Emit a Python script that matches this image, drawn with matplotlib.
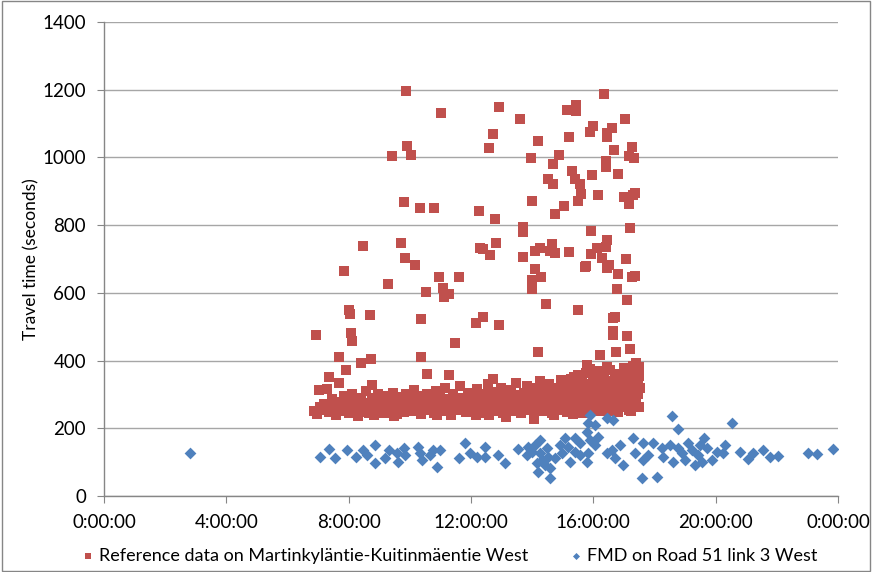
import matplotlib
matplotlib.use("Agg")
import matplotlib.pyplot as plt
from matplotlib.patches import Rectangle

plt.rcParams['font.family'] = ['Lato', 'DejaVu Sans']

# Hours of day for the time axis
tick_hours = [0, 4, 8, 12, 16, 20, 24]
tick_labels = ['0:00:00', '4:00:00', '8:00:00', '12:00:00', '16:00:00', '20:00:00', '0:00:00']
y_ticks = [0, 200, 400, 600, 800, 1000, 1200, 1400]

# Reference data: slow trips (hour of day, seconds)
ref_slow_hours = [
    9.88, 11.02, 9.91, 9.42, 10.04, 9.81, 10.33, 10.79, 12.25, 8.47, 9.71, 9.84, 10.17,
    7.85, 10.95, 11.61, 12.30, 9.29, 10.53, 11.09, 11.12, 11.28, 8.01, 8.04, 8.70, 6.93,
    8.08, 8.11, 10.37, 11.48, 12.16, 7.68, 10.37, 8.73, 8.40, 7.91, 10.56, 7.36, 11.28,
    7.68, 8.76, 7.03, 7.29, 12.72,
    16.35, 12.92, 13.60, 15.14, 15.43, 15.43, 17.04, 12.72, 12.59, 14.19, 15.21, 15.99,
    15.89, 16.61, 16.45, 16.45, 17.27, 17.17, 17.33, 16.68, 13.96, 14.88, 14.68, 16.42,
    16.42, 15.30, 15.40, 15.96, 16.81, 14.52, 14.68, 15.57, 15.60, 15.50, 16.15, 17.00,
    17.36, 17.30, 17.17, 14.00, 15.04, 14.75, 12.79, 13.70, 13.70, 15.93, 17.20, 12.82,
    12.39, 12.62, 13.70, 14.09, 14.26, 14.65, 14.58, 14.75, 15.21, 15.93, 16.12, 16.42,
    16.45, 16.29, 16.51, 16.45, 17.07, 15.73, 14.09, 14.29, 14.00, 14.00, 15.76, 16.81,
    17.36, 17.27, 16.78, 17.10, 14.45, 15.50, 12.39, 12.92, 16.71, 16.64, 16.64, 16.64,
    17.10, 14.19, 17.20, 16.22, 16.74, 15.79,
]
ref_slow_values = [
    1195, 1131, 1034, 1004, 1007, 868, 851, 851, 842, 738, 747, 703, 682,
    665, 647, 647, 732, 626, 602, 614, 588, 597, 549, 537, 535, 475,
    481, 458, 523, 452, 511, 411, 411, 405, 393, 372, 360, 351, 357,
    334, 328, 313, 316, 346,
    1187, 1149, 1113, 1140, 1155, 1137, 1113, 1069, 1028, 1048, 1060, 1093,
    1075, 1087, 1072, 1060, 1031, 1004, 998, 1022, 998, 1007, 981, 989,
    972, 960, 936, 948, 951, 936, 921, 921, 892, 871, 889, 883,
    895, 889, 862, 871, 856, 833, 818, 794, 780, 783, 792, 747,
    729, 712, 706, 724, 732, 744, 724, 718, 721, 715, 732, 735,
    756, 703, 682, 673, 700, 676, 670, 647, 638, 611, 679, 656,
    650, 647, 611, 579, 567, 549, 529, 505, 529, 526, 487, 475,
    473, 425, 434, 416, 425, 387,
]

# Reference data: free-flow band
ref_band_hours = [
    6.85, 6.95, 7.05, 7.15, 7.25, 7.35, 7.45, 7.55, 7.60, 7.70, 7.80, 7.85, 7.95, 8.00,
    8.05, 8.12, 8.20, 8.25, 8.30, 8.38, 8.45, 8.50, 8.55, 8.62, 8.70, 8.75, 8.82, 8.90,
    8.95, 9.02, 9.08, 9.15, 9.20, 9.27, 9.33, 9.40, 9.45, 9.50, 9.57, 9.62, 9.70, 9.75,
    9.82, 9.88, 9.95, 10.00, 10.05, 10.12, 10.18, 10.25, 10.30, 10.37, 10.42, 10.50,
    10.55, 10.60, 10.67, 10.72, 10.80, 10.85, 10.90, 10.97, 11.03, 11.10, 11.15, 11.22,
    11.28, 11.35, 11.40, 11.47, 11.52, 11.60, 11.65, 11.72, 11.78, 11.85, 11.90, 11.97,
    12.02, 12.08, 12.15, 12.20, 12.27, 12.32, 12.38, 12.45, 12.50, 12.55, 12.62, 12.68,
    12.73, 12.80, 12.85, 12.92, 12.97, 13.03, 13.08, 13.15, 13.20, 13.25, 13.32, 13.37,
    13.43, 13.48, 13.55, 13.60, 13.65, 13.72, 13.77, 13.83, 13.88, 13.95, 14.00, 14.05,
    14.10, 14.15, 14.20, 14.25, 14.30, 14.35, 14.40, 14.45, 14.50, 14.55, 14.60, 14.65,
    14.70, 14.75, 14.80, 14.85, 14.90, 14.95, 15.00, 15.03, 15.07, 15.10, 15.14, 15.18,
    15.22, 15.25, 15.29, 15.33, 15.37, 15.40, 15.44, 15.48, 15.52, 15.55, 15.59, 15.63,
    15.66, 15.70, 15.74, 15.77, 15.81, 15.85, 15.88, 15.92, 15.95, 15.99, 16.02, 16.06,
    16.09, 16.13, 16.16, 16.20, 16.23, 16.27, 16.30, 16.33, 16.37, 16.40, 16.43, 16.47,
    16.50, 16.53, 16.57, 16.60, 16.63, 16.67, 16.70, 16.73, 16.77, 16.80, 16.83, 16.87,
    16.90, 16.93, 16.97, 17.00, 17.03, 17.07, 17.10, 17.13, 17.17, 17.20, 17.23, 17.27,
    17.30, 17.33, 17.37, 17.40, 17.43, 17.47, 17.50, 17.45, 17.35, 16.45, 15.90, 15.50,
    16.00, 16.30, 17.15, 15.35, 14.72, 13.05, 11.88, 10.90, 9.48, 8.65, 12.60, 14.10,
    15.70, 16.60, 17.25, 17.45, 17.50, 17.52, 17.40, 17.28, 17.05, 16.85, 16.55, 16.25,
    15.97, 15.62, 15.28, 14.92, 14.38, 13.85, 13.30, 12.75, 12.18, 11.55, 10.95, 10.32,
    9.65, 9.05, 8.40, 7.75, 7.20, 17.48, 17.32, 17.18, 16.95, 16.75, 16.35, 16.15,
    15.80, 15.45, 15.15, 14.82, 14.48, 14.02, 13.52, 12.98, 12.42,
]
ref_band_values = [
    250, 242, 262, 255, 270, 248, 285, 260, 240, 278, 252, 295, 268, 245,
    282, 300, 258, 272, 236, 290, 262, 248, 310, 275, 255, 288, 240, 268,
    300, 258, 280, 245, 295, 265, 250, 285, 305, 270, 242, 290, 260, 278,
    248, 300, 268, 285, 252, 312, 275, 260, 295, 243, 282, 268,
    300, 255, 288, 272, 245, 310, 262, 292, 276, 250, 318, 268,
    285, 240, 300, 262, 280, 255, 325, 290, 270, 248, 305, 278,
    262, 295, 240, 315, 280, 258, 300, 272, 245, 330, 290, 265,
    308, 252, 285, 275, 320, 260, 298, 232, 282, 310, 268, 250,
    295, 335, 272, 288, 245, 305, 262, 325, 280, 255, 300, 228,
    285, 318, 268, 340, 292, 250, 310, 275, 262, 330, 295, 245,
    282, 315, 270, 300, 255, 342, 288, 265, 320, 278, 248, 305,
    335, 270, 292, 258, 350, 312, 280, 245, 325, 298, 268, 340,
    285, 255, 310, 362, 275, 300, 330, 262, 290, 345, 270, 315,
    252, 295, 370, 282, 328, 260, 305, 350, 275, 290, 340, 255,
    318, 372, 285, 300, 265, 335, 360, 280, 310, 248, 295, 355,
    325, 270, 300, 378, 285, 340, 262, 315, 365, 290, 252, 330,
    385, 305, 350, 275, 368, 320, 380, 340, 295, 380, 375, 358,
    260, 250, 255, 242, 238, 245, 258, 240, 236, 244, 238, 250,
    245, 250, 282, 300, 355, 320, 392, 345, 362, 338, 312, 365,
    322, 308, 345, 318, 300, 290, 312, 296, 305, 282, 300, 278,
    292, 270, 282, 268, 272, 262, 270, 340, 300, 318, 345, 300,
    325, 340, 295, 318, 305, 285, 298, 292, 270,
]

# FMD probe observations (hour of day, seconds)
fmd_hours = [
    2.81, 7.06, 7.36, 7.55, 7.95, 8.24, 8.47, 8.60, 8.86, 8.86, 9.19, 9.32, 9.58, 9.61,
    9.81, 9.84, 10.27, 10.33, 10.40, 10.66, 10.76, 10.89, 10.99, 11.61, 11.81, 11.97,
    12.20, 12.46, 12.46, 12.88, 13.11, 13.54, 13.87, 14.09, 14.00, 14.26, 14.32, 14.16,
    14.19, 14.58, 14.58, 14.49, 14.52, 14.75, 14.91, 14.98, 15.08, 15.17, 15.24, 15.40,
    15.40, 15.57, 15.57, 15.79, 15.83, 15.89, 15.83, 15.79, 16.06, 16.15, 16.45, 16.64,
    16.45, 16.61, 16.71, 16.87, 16.97, 17.30, 17.36, 17.63, 17.63, 17.59, 17.79, 17.95,
    18.08, 18.25, 18.28, 18.57, 18.61, 18.77, 18.77, 18.90, 19.00, 19.10, 19.23, 19.33,
    19.42, 19.56, 19.62, 19.72, 19.88, 20.05, 20.31, 20.24, 20.54, 20.80, 21.06, 21.22,
    21.55, 21.78, 22.04, 23.02, 23.32, 23.84, 15.89, 16.06, 14.26, 13.83, 14.42, 19.49,
    18.51,
]
fmd_values = [
    127, 115, 139, 112, 136, 115, 136, 121, 151, 97, 112, 136, 127, 100,
    142, 121, 145, 127, 106, 121, 136, 86, 136, 112, 157, 127,
    115, 145, 115, 121, 97, 139, 145, 151, 130, 127, 106, 97,
    71, 83, 53, 142, 115, 112, 151, 127, 171, 145, 100, 171,
    130, 157, 121, 100, 127, 239, 216, 189, 210, 174, 230, 224,
    127, 136, 112, 151, 92, 171, 127, 157, 106, 53, 121, 157,
    56, 142, 115, 236, 100, 198, 142, 127, 106, 157, 136, 92,
    121, 100, 171, 142, 106, 130, 151, 127, 216, 130, 109, 127,
    136, 115, 118, 127, 124, 139, 165, 151, 165, 121, 92, 151,
    151,
]

red = '#C0504D'
blue = '#4F81BD'
grid_gray = '#A6A6A6'

fig = plt.figure(figsize=(8.72, 5.72), dpi=100)
ax = fig.add_axes([0.1193, 0.1329, 0.8417, 0.8286])

ax.scatter(ref_slow_hours + ref_band_hours, ref_slow_values + ref_band_values,
           marker='s', s=62, color=red, linewidths=0, zorder=3,
           label='Reference data on Martinkyläntie-Kuitinmäentie West')
ax.scatter(fmd_hours, fmd_values, marker='D', s=36, color=blue, linewidths=0, zorder=4,
           label='FMD on Road 51 link 3 West')

ax.set_xlim(0, 24)
ax.set_ylim(0, 1400)
ax.set_xticks(tick_hours)
ax.set_xticklabels(tick_labels)
ax.set_yticks(y_ticks)
ax.yaxis.grid(True, color=grid_gray, linewidth=1.0)
ax.set_axisbelow(True)

for side in ('top', 'right'):
    ax.spines[side].set_visible(False)
for side in ('left', 'bottom'):
    ax.spines[side].set_color('#868686')
    ax.spines[side].set_linewidth(1.0)
ax.tick_params(axis='both', direction='out', length=5, color='#868686',
               labelsize=13.5, labelcolor='black', pad=8)

ax.set_ylabel('Travel time (seconds)', fontsize=12.5, labelpad=2)

leg = ax.legend(loc='upper center', bbox_to_anchor=(0.47, -0.075), ncol=2, frameon=False,
                fontsize=13, handletextpad=0.15, columnspacing=2.2, markerscale=0.6,
                handlelength=0.9)

# Outer frame around the whole chart area
fig.patches.append(Rectangle((0.002, 0.002), 0.996, 0.996, transform=fig.transFigure,
                             fill=False, edgecolor='#868686', linewidth=1.0))

fig.savefig('out.png', dpi=100)
